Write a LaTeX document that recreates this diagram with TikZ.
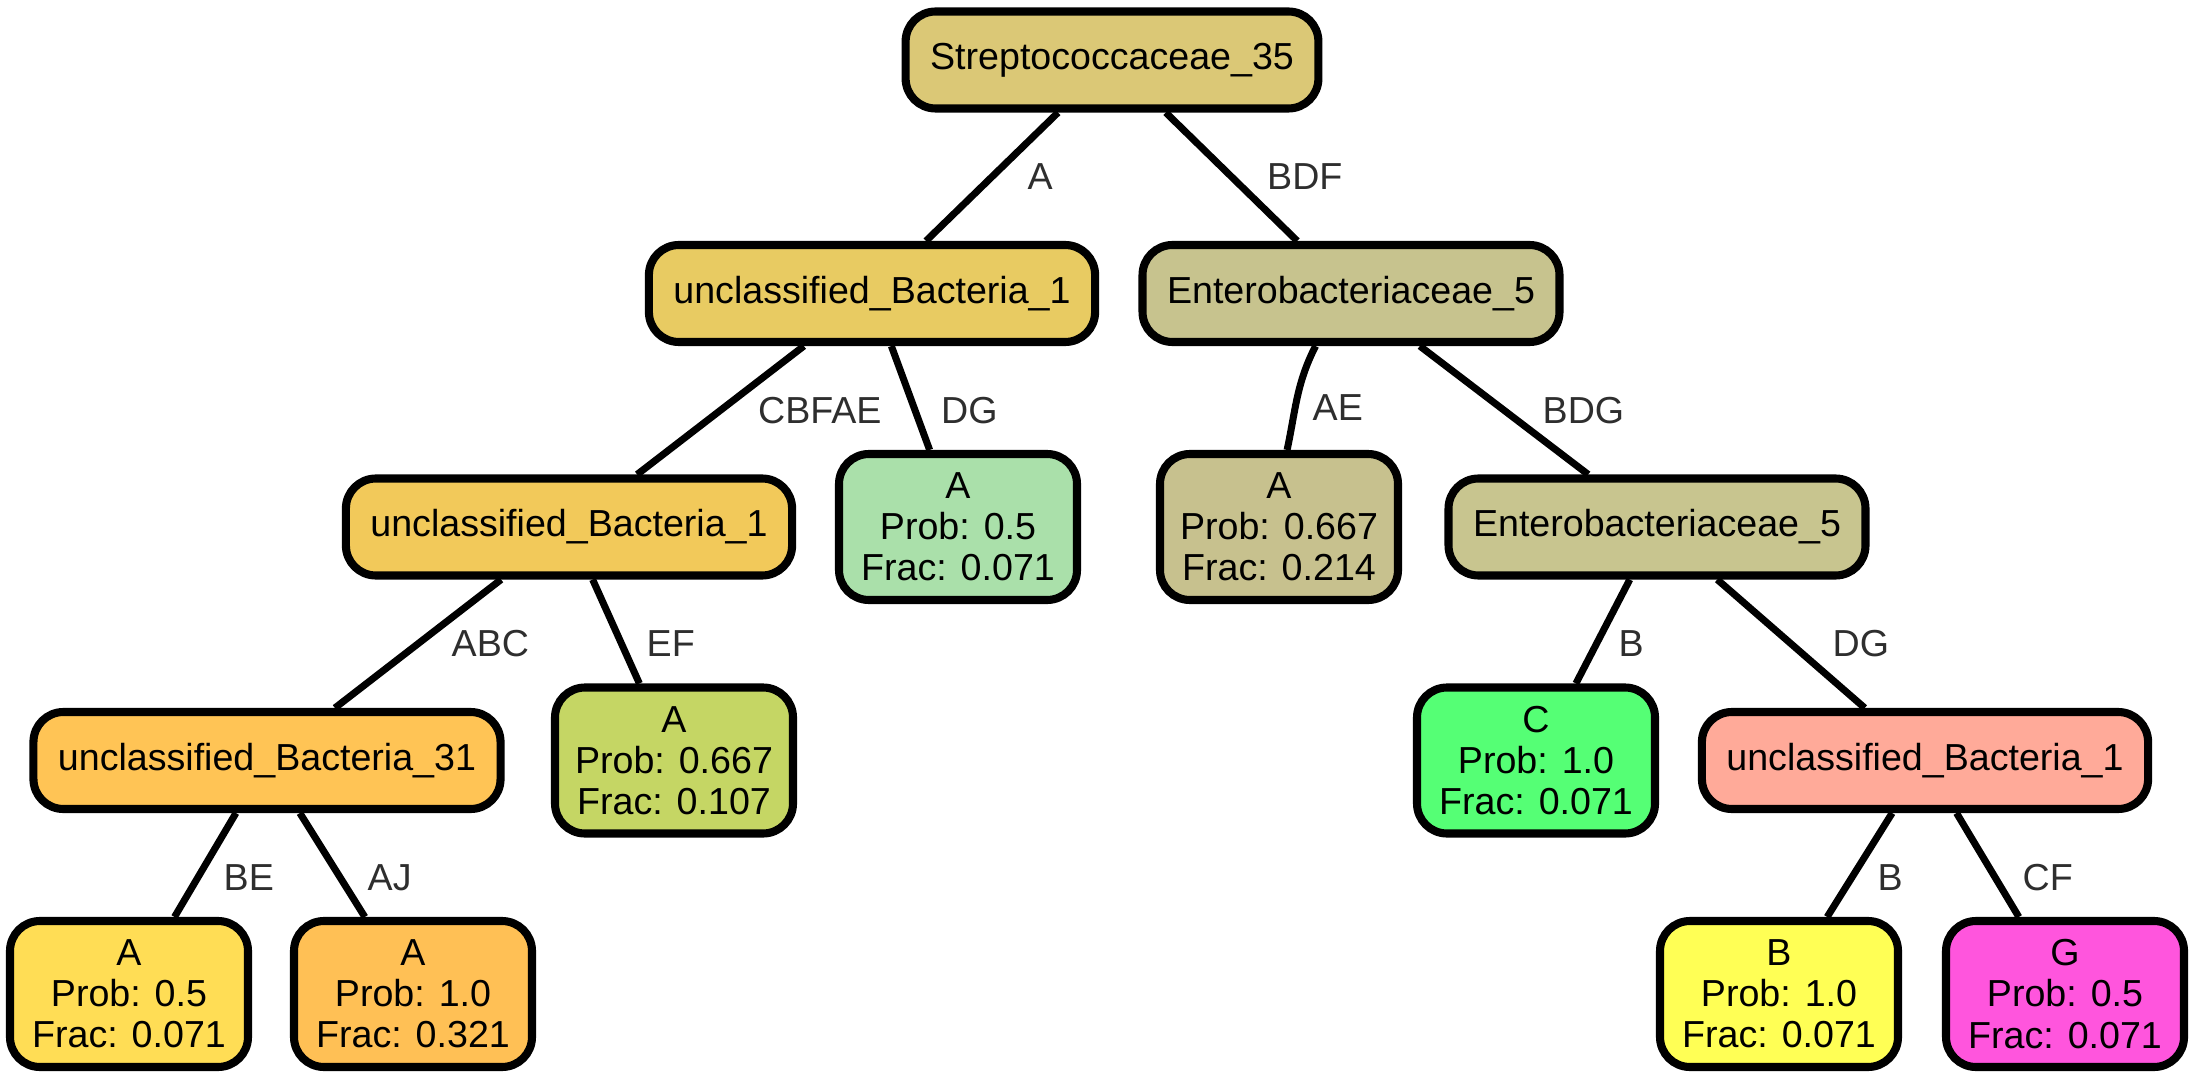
\documentclass[tikz,border=0pt]{standalone}
\usepackage{fontspec}
\setmainfont{Liberation Sans}
\usepackage{xcolor}
\usetikzlibrary{positioning,calc}

\definecolor{cRoot}{HTML}{DBC876}
\definecolor{cUBa}{HTML}{E8CB62}
\definecolor{cEnta}{HTML}{C7C38E}
\definecolor{cUBb}{HTML}{F2C95A}
\definecolor{cLeafAa}{HTML}{AAE0AA}
\definecolor{cLeafAb}{HTML}{C7C18E}
\definecolor{cEntb}{HTML}{C8C58F}
\definecolor{cUBthirty}{HTML}{FFC455}
\definecolor{cLeafAc}{HTML}{C5D664}
\definecolor{cLeafC}{HTML}{55FF75}
\definecolor{cUBc}{HTML}{FFAA99}
\definecolor{cLeafAd}{HTML}{FFDD55}
\definecolor{cLeafAe}{HTML}{FFC055}
\definecolor{cLeafB}{HTML}{FFFF55}
\definecolor{cLeafG}{HTML}{FF55DD}

\begin{document}
\begin{tikzpicture}[
    inner/.style={draw, line width=2.3pt, rounded corners=0.3cm, minimum height=0.97cm, inner xsep=0.245cm, font=\fontsize{10.7}{11.7}\selectfont},
    leaf/.style={draw, line width=2.3pt, rounded corners=0.3cm, minimum width=2.38cm, minimum height=1.46cm, inner xsep=0.1cm, align=center, font=\fontsize{10.7}{11.7}\selectfont},
    edge/.style={line width=2pt},
    elabel/.style={anchor=west, inner sep=0pt, text=black!82, font=\fontsize{10.7}{11.7}\selectfont},
    on grid,
]
\useasboundingbox (0,0) rectangle (21.94,10.79);

% level 0 and 1
\node[inner, fill=cRoot] (root) at (11.12,10.19) {Streptococcaceae\_35};
\node[inner, fill=cUBa, below left=2.335cm and 2.40cm of root]   (ub1a) {unclassified\_Bacteria\_1};
\node[inner, fill=cEnta, below right=2.335cm and 2.39cm of root] (ent5a) {Enterobacteriaceae\_5};

% level 2
\node[inner, fill=cUBb, below left=2.335cm and 3.03cm of ub1a]    (ub1b) {unclassified\_Bacteria\_1};
\node[leaf, fill=cLeafAa, below right=2.335cm and 0.86cm of ub1a] (leafAa) {A\\Prob: 0.5\\Frac: 0.071};
\node[leaf, fill=cLeafAb, below left=2.335cm and 0.72cm of ent5a] (leafAb) {A\\Prob: 0.667\\Frac: 0.214};
\node[inner, fill=cEntb, below right=2.335cm and 3.06cm of ent5a] (ent5b) {Enterobacteriaceae\_5};

% level 3
\node[inner, fill=cUBthirty, below left=2.335cm and 3.02cm of ub1b] (ub31) {unclassified\_Bacteria\_31};
\node[leaf, fill=cLeafAc, below right=2.335cm and 1.05cm of ub1b]   (leafAc) {A\\Prob: 0.667\\Frac: 0.107};
\node[leaf, fill=cLeafC, below left=2.335cm and 1.21cm of ent5b]    (leafC) {C\\Prob: 1.0\\Frac: 0.071};
\node[inner, fill=cUBc, below right=2.335cm and 2.68cm of ent5b]    (ub1c) {unclassified\_Bacteria\_1};

% level 4
\node[leaf, fill=cLeafAd, below left=2.335cm and 1.38cm of ub31]  (leafAd) {A\\Prob: 0.5\\Frac: 0.071};
\node[leaf, fill=cLeafAe, below right=2.335cm and 1.46cm of ub31] (leafAe) {A\\Prob: 1.0\\Frac: 0.321};
\node[leaf, fill=cLeafB, below left=2.335cm and 1.46cm of ub1c]   (leafB) {B\\Prob: 1.0\\Frac: 0.071};
\node[leaf, fill=cLeafG, below right=2.335cm and 1.40cm of ub1c]  (leafG) {G\\Prob: 0.5\\Frac: 0.071};

% edges
\draw[edge] (root) -- (ub1a);
\draw[edge] (root) -- (ent5a);
\draw[edge] (ub1a) -- (ub1b);
\draw[edge] (ub1a) -- (leafAa);
\draw[edge] (ent5a.-124) to[out=-117, in=78] (leafAb.84);
\draw[edge] (ent5a) -- (ent5b);
\draw[edge] (ub1b) -- (ub31);
\draw[edge] (ub1b) -- (leafAc);
\draw[edge] (ent5b) -- (leafC);
\draw[edge] (ent5b) -- (ub1c);
\draw[edge] (ub31) -- (leafAd);
\draw[edge] (ub31) -- (leafAe);
\draw[edge] (ub1c) -- (leafB);
\draw[edge] (ub1c) -- (leafG);

% edge labels
\node[elabel, xshift=0.35cm]  (lA)     at ($(root)!.5!(ub1a)$)    {A};
\node[elabel, xshift=0.35cm]  (lBDF)   at ($(root)!.5!(ent5a)$)   {BDF};
\node[elabel, xshift=0.37cm]  (lCBFAE) at ($(ub1a)!.5!(ub1b)$)    {CBFAE};
\node[elabel, xshift=0.255cm] (lDGa)   at ($(ub1a)!.5!(leafAa)$)  {DG};
\node[elabel, xshift=-0.03cm, yshift=0.03cm] (lAE) at ($(ent5a)!.5!(leafAb)$) {AE};
\node[elabel, xshift=0.38cm]  (lBDG)   at ($(ent5a)!.5!(ent5b)$)  {BDG};
\node[elabel, xshift=0.33cm]  (lABC)   at ($(ub1b)!.5!(ub31)$)    {ABC};
\node[elabel, xshift=0.245cm] (lEF)    at ($(ub1b)!.5!(leafAc)$)  {EF};
\node[elabel, xshift=0.215cm] (lBa)    at ($(ent5b)!.5!(leafC)$)  {B};
\node[elabel, xshift=0.41cm]  (lDGb)   at ($(ent5b)!.5!(ub1c)$)   {DG};
\node[elabel, xshift=0.25cm]  (lBE)    at ($(ub31)!.5!(leafAd)$)  {BE};
\node[elabel, xshift=0.27cm]  (lAJ)    at ($(ub31)!.5!(leafAe)$)  {AJ};
\node[elabel, xshift=0.25cm]  (lBb)    at ($(ub1c)!.5!(leafB)$)   {B};
\node[elabel, xshift=0.27cm]  (lCF)    at ($(ub1c)!.5!(leafG)$)   {CF};
\end{tikzpicture}
\end{document}
